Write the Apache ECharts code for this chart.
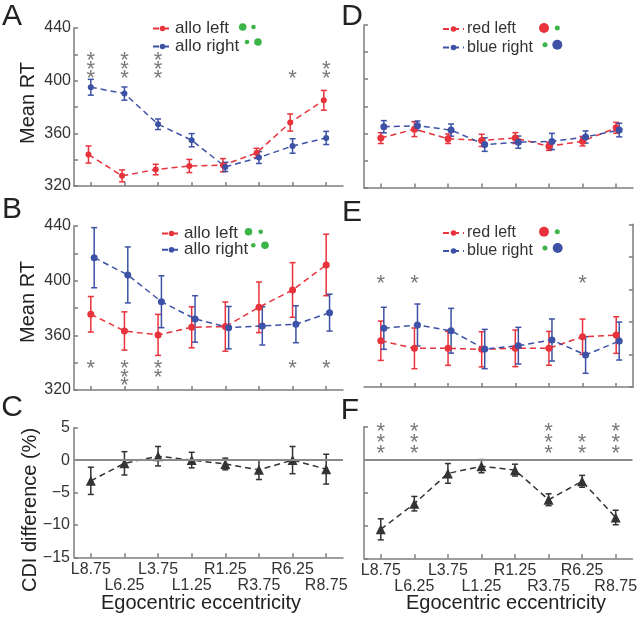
<!DOCTYPE html>
<html><head><meta charset="utf-8">
<script src="https://cdn.jsdelivr.net/npm/echarts@6/dist/echarts.min.js"></script>
<style>html,body{margin:0;padding:0;background:#fff}#c{width:640px;height:618px}</style>
</head><body><div id="c"></div>
<script>
// ---------- data ----------
const categories = ['L8.75','L6.25','L3.75','L1.25','R1.25','R3.75','R6.25','R8.75'];

const A_left     = [343.9, 327.7, 332.5, 335.2, 335.8, 345.1, 368.2, 385.1];
const A_leftErr  = [6.5, 4.5, 4, 5, 5, 3.5, 6.5, 7.5];
const A_right    = [395.0, 390.2, 366.9, 354.8, 334.5, 341.6, 350.4, 356.5];
const A_rightErr = [6, 5, 4, 5, 3.5, 4.5, 5.5, 5];

const B_left     = [375.4, 363.2, 360.3, 365.9, 366.4, 380.5, 393.2, 411.5];
const B_leftErr  = [13, 14, 15, 15, 18, 18.5, 20, 22.5];
const B_right    = [416.8, 404.2, 384.6, 372.0, 365.6, 366.9, 368.1, 376.6];
const B_rightErr = [22, 20.5, 19, 17, 15.5, 14, 13.5, 13.5];

const C_diff = [-3.2, -0.5, 0.6, 0.0, -0.6, -1.5, 0.0, -1.4];
const C_err  = [2.1, 1.8, 1.5, 1.2, 0.9, 1.5, 2.1, 2.3];

const D_red     = [356.5, 363.1, 356.0, 354.8, 356.5, 350.4, 354.2, 364.1];
const D_redErr  = [4, 5.5, 3.5, 4.5, 4, 3, 3.5, 4];
const D_blue    = [364.9, 365.6, 362.4, 351.7, 353.5, 354.0, 357.3, 362.4];
const D_blueErr = [4.5, 3.5, 4.5, 5, 4.5, 6, 4.5, 5];

const E_red     = [354.1, 348.5, 348.5, 347.8, 348.5, 348.5, 357.1, 358.3];
const E_redErr  = [14.5, 15, 12.5, 13, 13.5, 12.5, 13, 13.5];
const E_blue    = [363.3, 365.7, 361.5, 348.0, 350.5, 354.7, 343.6, 353.9];
const E_blueErr = [15.5, 15.5, 16.5, 14.5, 13.5, 15.5, 13.5, 14];

const F_diff = [-10.6, -6.7, -2.1, -1.0, -1.6, -6.1, -3.3, -8.8];
const F_err  = [1.6, 1.1, 1.5, 1.0, 0.9, 0.9, 0.9, 1.1];

// significance asterisks: count per category, and the value levels where they sit
const A_stars = [3,3,3,0,0,0,1,2];  const A_starLevels = [405.6, 412.4, 419.3];
const B_stars = [1,3,2,0,0,0,1,1];  const B_starLevels = [340.0, 333.4, 327.0];
const E_stars = [1,1,0,0,0,0,1,0];  const E_starLevels = [400.4];
const F_stars = [3,3,0,0,0,3,2,3];  const F_starLevels = [1.8, 3.5, 5.05];

const rtMin = 320, rtMax = 440, rtStep = 20, rtLabelStep = 40;
const cdiMin = -15, cdiMax = 5, cdiStep = 5;

// ---------- style ----------
const FONT = '"Liberation Sans", Arial, Helvetica, sans-serif';
const RED = '#e8333c', BLUE = '#3d52a6', GREEN = '#3cb44a', DARK = '#333333';
const AX = '#7d7d7d', TXT = '#333333', STAR = '#555555';

const grids = [
  {left:74,  top:28,    width:269, height:158},   // A
  {left:74,  top:226,   width:269, height:164},   // B
  {left:74,  top:427.7, width:269, height:129.6}, // C
  {left:364, top:25,    width:269, height:162.5}, // D
  {left:364, top:224.3, width:269, height:162.7}, // E
  {left:364, top:426.7, width:269, height:131.6}  // F
];

const xAxes = [];
grids.forEach((g, p) => {
  const bottom = (p === 2 || p === 5);
  xAxes.push({
    type:'category', gridIndex:p, data:categories, boundaryGap:true,
    axisLine:{show:true, onZero:false, lineStyle:{color:AX, width:1.5}},
    axisTick:{show:true, alignWithLabel:true, inside:true, length:4, interval:0, lineStyle:{color:AX, width:1.5}},
    splitLine:{show:false},
    axisLabel:{show:bottom, interval:0, color:TXT, fontSize:16, lineHeight:16, margin:4, fontFamily:FONT,
      formatter:(v, i) => (i % 2 === 0 ? v : '\n' + v)}
  });
  xAxes.push({type:'value', gridIndex:p, min:0.5, max:categories.length + 0.5, show:false});
});

function rtAxis(p, labels) {
  return {type:'value', gridIndex:p, min:rtMin, max:rtMax, interval:rtStep,
    axisLine:{show:true, onZero:false, lineStyle:{color:AX, width:1.5}},
    axisTick:{show:true, inside:true, length:4, lineStyle:{color:AX, width:1.5}},
    splitLine:{show:false},
    axisLabel:{show:labels, color:TXT, fontSize:16, margin:3, fontFamily:FONT,
      formatter:v => (v % rtLabelStep === 0 ? String(v) : '')}};
}
function cdiAxis(p, labels) {
  return {type:'value', gridIndex:p, min:cdiMin, max:cdiMax, interval:cdiStep,
    axisLine:{show:true, onZero:false, lineStyle:{color:AX, width:1.5}},
    axisTick:{show:true, inside:true, length:4, lineStyle:{color:AX, width:1.5}},
    splitLine:{show:false},
    axisLabel:{show:labels, color:TXT, fontSize:16, margin:4, fontFamily:FONT,
      formatter:v => String(v).replace('-', '\u2212')}};
}
const yAxes = [
  rtAxis(0, true), rtAxis(1, true), cdiAxis(2, true), rtAxis(3, false),
  Object.assign(rtAxis(4, false), {axisLine:{show:false}, axisTick:{show:false}}),
  cdiAxis(5, false),
  // panel E tick frame (5 equal divisions, no labels)
  {type:'value', gridIndex:4, min:0, max:5, interval:1,
    axisLine:{show:true, onZero:false, lineStyle:{color:AX, width:1.5}},
    axisTick:{show:true, inside:true, length:4, lineStyle:{color:AX, width:1.5}},
    splitLine:{show:false}, axisLabel:{show:false}}
];

const series = [];
function errBars(p, vals, errs, off, color, z) {
  series.push({
    type:'custom', xAxisIndex:2*p+1, yAxisIndex:p, z:z, silent:true,
    data: vals.map((v, i) => [i + 1 + off, v - errs[i], v + errs[i]]),
    encode:{x:0, y:[1,2]},
    renderItem:(params, api) => {
      const x = api.value(0);
      const a = api.coord([x, api.value(2)]), b = api.coord([x, api.value(1)]);
      const w = 3, st = {stroke:color, lineWidth:1.5};
      return {type:'group', children:[
        {type:'line', shape:{x1:a[0], y1:a[1], x2:b[0], y2:b[1]}, style:st},
        {type:'line', shape:{x1:a[0]-w, y1:a[1], x2:a[0]+w, y2:a[1]}, style:st},
        {type:'line', shape:{x1:b[0]-w, y1:b[1], x2:b[0]+w, y2:b[1]}, style:st}
      ]};
    }
  });
}
function line(p, name, vals, off, color, symbol, size, z) {
  const s = {
    type:'line', name:name, xAxisIndex:2*p+1, yAxisIndex:p, z:z,
    data: vals.map((v, i) => [i + 1 + off, v]),
    symbol:symbol, symbolSize:size, showSymbol:true,
    lineStyle:{color:color, width:1.5, type:[6,4]},
    itemStyle:{color:color}, animation:false
  };
  series.push(s);
  return s;
}
function stars(p, counts, levels) {
  const pts = [];
  counts.forEach((n, i) => { for (let k = 0; k < n; k++) pts.push([i + 1, levels[k]]); });
  series.push({
    type:'scatter', xAxisIndex:2*p+1, yAxisIndex:p, clip:false, silent:true,
    symbolSize:1, itemStyle:{color:'rgba(0,0,0,0)'}, data:pts,
    label:{show:true, position:'inside', formatter:'*', color:STAR, fontSize:22, fontFamily:FONT, offset:[0,6]}
  });
}

// A
errBars(0, A_left, A_leftErr, -0.07, RED, 3);  line(0, 'allo left', A_left, -0.07, RED, 'circle', 6, 4);
errBars(0, A_right, A_rightErr, 0, BLUE, 3);   line(0, 'allo right', A_right, 0, BLUE, 'circle', 6, 4);
stars(0, A_stars, A_starLevels);
// B
errBars(1, B_left, B_leftErr, 0, RED, 3);      line(1, 'allo left', B_left, 0, RED, 'circle', 7, 4);
errBars(1, B_right, B_rightErr, 0.1, BLUE, 3); line(1, 'allo right', B_right, 0.1, BLUE, 'circle', 7, 4);
stars(1, B_stars, B_starLevels);
// C
errBars(2, C_diff, C_err, 0, DARK, 3);
const sc = line(2, 'CDI', C_diff, 0, DARK, 'triangle', 10, 4);
sc.markLine = {silent:true, symbol:['none','none'], label:{show:false}, animation:false,
  lineStyle:{color:'#8a8a8a', type:'solid', width:2}, data:[{yAxis:0}]};
// D
errBars(3, D_red, D_redErr, 0, RED, 3);        line(3, 'red left', D_red, 0, RED, 'circle', 7, 4);
errBars(3, D_blue, D_blueErr, 0.09, BLUE, 3);  line(3, 'blue right', D_blue, 0.09, BLUE, 'circle', 7, 4);
// E
errBars(4, E_red, E_redErr, 0, RED, 3);        line(4, 'red left', E_red, 0, RED, 'circle', 7, 4);
errBars(4, E_blue, E_blueErr, 0.09, BLUE, 3);  line(4, 'blue right', E_blue, 0.09, BLUE, 'circle', 7, 4);
stars(4, E_stars, E_starLevels);
// F
errBars(5, F_diff, F_err, 0, DARK, 3);
const sf = line(5, 'CDI ', F_diff, 0, DARK, 'triangle', 10, 4);
sf.markLine = {silent:true, symbol:['none','none'], label:{show:false}, animation:false,
  lineStyle:{color:'#8a8a8a', type:'solid', width:2}, data:[{yAxis:0}]};
stars(5, F_stars, F_starLevels);

function legendAt(names, left, top, gap, fs, w) {
  return {data:names, orient:'vertical', left:left, top:top, padding:0, itemGap:gap,
    itemWidth:w, itemHeight:7, selectedMode:false,
    textStyle:{fontSize:fs, lineHeight:14, color:TXT, fontFamily:FONT, padding:[0,0,0,-2]}};
}
const legends = [
  legendAt(['allo left','allo right'], 152, 20, 1, 17, 19),
  legendAt(['allo left','allo right'], 161, 225, -0.7, 17, 19),
  legendAt(['red left','blue right'], 442, 21, 2.5, 16, 21),
  legendAt(['red left','blue right'], 442, 225, 2.0, 16, 21)
];

function txt(s, x, y, size, rot) {
  return {type:'text', x:x, y:y, rotation:rot || 0, silent:true,
    style:{text:s, fontSize:size, fontFamily:FONT, fill:'#222', align:'center', verticalAlign:'middle'}};
}
function dot(x, y, r, c) { return {type:'circle', silent:true, shape:{cx:x, cy:y, r:r}, style:{fill:c}}; }

const graphic = [
  txt('A', 12, 17, 30), txt('B', 12, 210, 30), txt('C', 12, 408, 30),
  txt('D', 352, 17, 30), txt('E', 352, 213, 30), txt('F', 350, 411, 30),
  txt('Mean RT', 28, 103, 20, Math.PI/2), txt('Mean RT', 28, 302, 20, Math.PI/2),
  txt('CDI difference (%)', 30, 510, 20, Math.PI/2),
  txt('Egocentric eccentricity', 201, 603, 20), txt('Egocentric eccentricity', 506, 603, 20),
  dot(242.7, 27, 3.8, GREEN), dot(253.5, 27, 2.3, GREEN),
  dot(247, 42, 2.3, GREEN), dot(258, 42, 3.8, GREEN),
  dot(248.5, 231.7, 3.8, GREEN), dot(260.7, 231.7, 2.3, GREEN),
  dot(253.3, 245.3, 2.3, GREEN), dot(265, 245.3, 3.8, GREEN),
  dot(544, 28, 5, RED), dot(557.3, 28, 2.5, GREEN),
  dot(545, 44.7, 2.5, GREEN), dot(557.3, 44.7, 5, BLUE),
  dot(544, 231.7, 5, RED), dot(557.3, 231.7, 2.5, GREEN),
  dot(545, 248, 2.5, GREEN), dot(557.7, 248, 5, BLUE)
];

const chart = echarts.init(document.getElementById('c'), null, {renderer:'canvas'});
chart.setOption({
  animation:false, backgroundColor:'#fff',
  textStyle:{fontFamily:FONT},
  grid:grids, xAxis:xAxes, yAxis:yAxes, series:series, legend:legends, graphic:graphic
});
</script></body></html>
